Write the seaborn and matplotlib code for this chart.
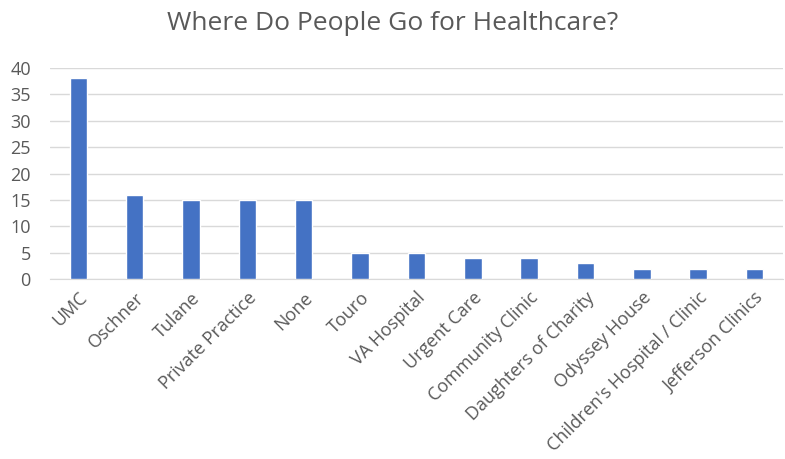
import matplotlib
matplotlib.use("Agg")
from matplotlib import pyplot as plt
import seaborn as sns
import pandas as pd

# Chart data
places = [
    "UMC", "Oschner", "Tulane", "Private Practice", "None", "Touro",
    "VA Hospital", "Urgent Care", "Community Clinic", "Daughters of Charity",
    "Odyssey House", "Children's Hospital / Clinic", "Jefferson Clinics",
]
counts = [38, 16, 15, 15, 15, 5, 5, 4, 4, 3, 2, 2, 2]
y_ticks = [0, 5, 10, 15, 20, 25, 30, 35, 40]

TEXT = "#595959"
BAR = "#4472C4"
GRID = "#D9D9D9"


def main():
    df = pd.DataFrame({"Place": places, "Count": counts})

    sns.set_style("white")
    plt.rcParams["font.family"] = ["Open Sans", "DejaVu Sans"]

    fig = plt.figure(figsize=(7.85, 4.59), dpi=100)
    ax = fig.add_axes([0.064, 0.392, 0.933, 0.46])

    sns.barplot(data=df, x="Place", y="Count", color=BAR, width=0.31,
                saturation=1, ax=ax, zorder=3)

    ax.set_ylim(0, 40)
    ax.set_yticks(y_ticks)
    ax.set_xlim(-0.5, len(places) - 0.5)
    ax.grid(axis="y", color=GRID, linewidth=1, zorder=0)
    for s in ["top", "right", "left"]:
        ax.spines[s].set_visible(False)
    ax.spines["bottom"].set_color(GRID)
    ax.tick_params(axis="both", length=0, colors=TEXT, labelsize=13)
    ax.tick_params(axis="x", pad=7)
    ax.tick_params(axis="y", pad=14)
    plt.setp(ax.get_xticklabels(), rotation=45, ha="right",
             rotation_mode="anchor")
    ax.set(xlabel=None, ylabel=None)

    fig.text(0.5, 0.975, "Where Do People Go for Healthcare?", ha="center",
             va="top", fontsize=19, color=TEXT)

    plt.savefig("out.png", dpi=100)
    plt.close()


if __name__ == "__main__":
    main()
